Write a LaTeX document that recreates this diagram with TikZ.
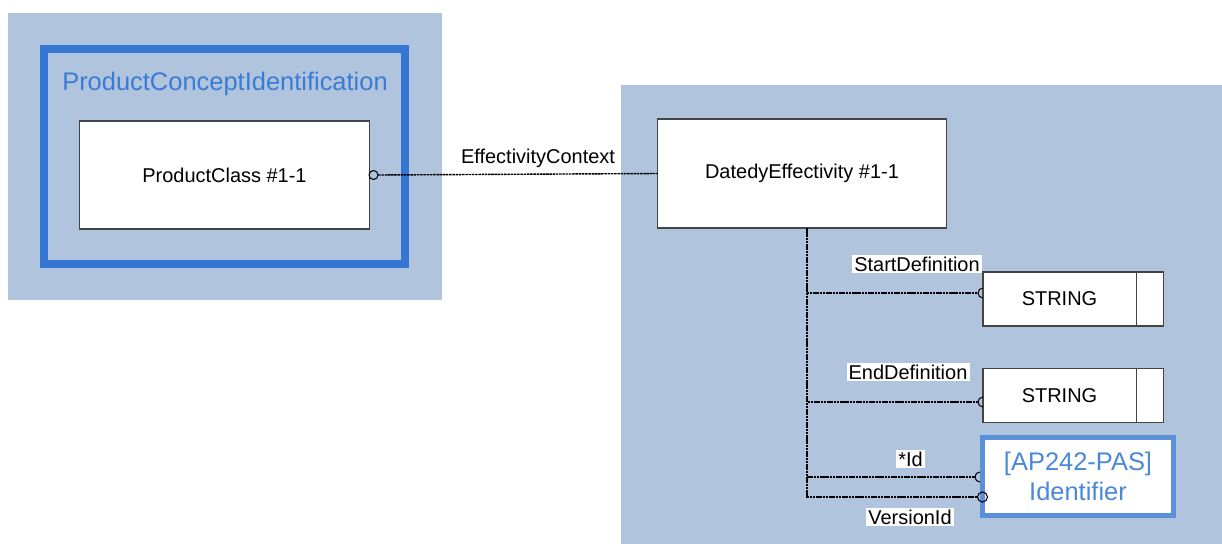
\documentclass[tikz,border=0pt]{standalone}
\usepackage{fontspec}
\setmainfont{Liberation Sans}
\definecolor{panelgray}{HTML}{B0C4DE}
\definecolor{framedark}{HTML}{3476D2}
\definecolor{framelight}{HTML}{5B8FDA}
\definecolor{titleblue}{HTML}{3A7BD5}
\definecolor{idblue}{HTML}{4A88DA}
\definecolor{boxline}{HTML}{444444}
\tikzset{
  every node/.style={outer sep=0pt, font=\fontsize{14.2}{17}\selectfont},
  panel/.style={fill=panelgray, draw=none},
  entity/.style={draw=boxline, line width=0.75pt, fill=white, rectangle, inner sep=0pt},
  lbl/.style={fill=white, inner sep=1.5pt, text=black},
  conn/.style={black, line width=1pt, dash pattern=on 1.8pt off 0.5pt},
  ring/.style={black, line width=0.75pt},
  bigtext/.style={font=\fontsize{18.1}{21.5}\selectfont}
}
\begin{document}
\begin{tikzpicture}[x=0.025cm, y=-0.025cm]
\useasboundingbox (0,0) rectangle (1222,544);
% panels
\fill[panelgray] (8,13) rectangle (442,300);
\fill[panelgray] (621,85) rectangle (1222,544);
% group frame
\draw[framedark, line width=5.7pt] (44,49) rectangle (405,264);
\node[bigtext, text=titleblue] (title) at (225,84) {ProductConceptIdentification};
% entities
\node[entity, minimum width=7.225cm, minimum height=2.7cm] (pc) at (224.5,175) {ProductClass \#1-1};
\node[entity, minimum width=7.2cm, minimum height=2.725cm] (de) at (802,173.5) {DatedyEffectivity \#1-1};
\node[entity, minimum width=3.825cm, minimum height=1.35cm] (s1) at (1059.5,299) {STRING};
\node[entity, minimum width=0.675cm, minimum height=1.35cm, anchor=west] (s1x) at (s1.east) {};
\node[entity, minimum width=3.825cm, minimum height=1.35cm] (s2) at (1059.5,395.5) {STRING};
\node[entity, minimum width=0.675cm, minimum height=1.35cm, anchor=west] (s2x) at (s2.east) {};
\node[entity, draw=framelight, line width=3.55pt, minimum width=4.775cm, minimum height=1.95cm,
      bigtext, text=idblue, align=center] (id) at (1078,476.5) {[AP242-PAS]\\[-0.5pt]Identifier};
% connector ProductClass -- DatedyEffectivity
\draw[ring] ([xshift=0.1125cm]pc.east) circle[radius=0.1125cm];
\draw[conn] ([xshift=0.225cm]pc.east) -- (de.west);
\node[lbl, fill=none] (ec) at (538,158) {EffectivityContext};
% StartDefinition
\draw[conn] ([xshift=0.125cm]de.south) |- ([xshift=-0.125cm, yshift=0.15cm]s1.west);
\draw[ring] ([yshift=0.275cm]s1.west) arc[start angle=90, end angle=270, radius=0.125cm];
\node[lbl] (sd) at (917,264) {StartDefinition};
% EndDefinition
\draw[conn] ([xshift=0.125cm]de.south) |- ([xshift=-0.125cm, yshift=-0.1625cm]s2.west);
\draw[ring] ([yshift=-0.0375cm]s2.west) arc[start angle=90, end angle=270, radius=0.125cm];
\node[lbl] (ed) at (908,372) {EndDefinition};
% *Id
\draw[conn] ([xshift=0.125cm]de.south) |- ([xshift=-0.1875cm, yshift=-0.0125cm]id.west);
\draw[ring] ([xshift=-0.0625cm, yshift=0.1125cm]id.west) arc[start angle=90, end angle=270, radius=0.125cm];
\node[lbl] (idl) at (910.5,459) {*Id};
% VersionId
\draw[conn] ([xshift=0.125cm]de.south) |- ([xshift=-0.125cm, yshift=-0.5125cm]id.west);
\draw[ring] ([yshift=-0.5125cm]id.west) circle[radius=0.125cm];
\node[lbl] (vl) at (910,517) {VersionId};
\end{tikzpicture}
\end{document}
